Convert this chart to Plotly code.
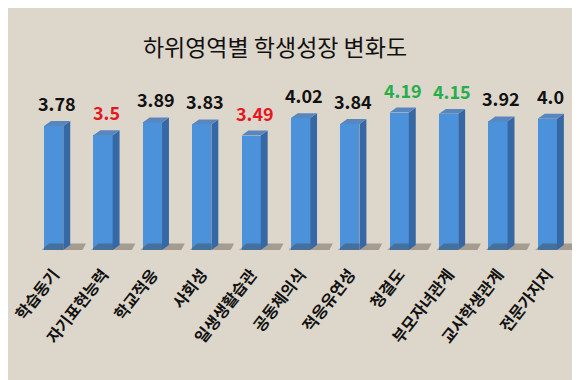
import plotly.graph_objects as go

categories = ["학습동기", "자기표현능력", "학교적응", "사회성", "일생생활습관", "공동체의식",
              "적응유연성", "청결도", "부모자녀관계", "교사학생관계", "전문가지지"]
values = [3.78, 3.5, 3.89, 3.83, 3.49, 4.02, 3.84, 4.19, 4.15, 3.92, 4.0]
value_labels = ["3.78", "3.5", "3.89", "3.83", "3.49", "4.02", "3.84", "4.19", "4.15", "3.92", "4.0"]
label_colors = ["#111111", "#E5171F", "#111111", "#111111", "#E5171F", "#111111",
                "#111111", "#27AE4A", "#27AE4A", "#111111", "#111111"]

FONT = "Noto Sans CJK KR"
W = 0.39      # front face width (x units)
DX = 0.14     # depth offset in x
DY = 0.15     # depth offset in y
xs = list(range(len(categories)))

fig = go.Figure()

# floor shadows
for i, v in zip(xs, values):
    x0 = i - W / 2
    x1 = i + W / 2 + DX
    fig.add_trace(go.Scatter(
        x=[x0 - 0.05, x1 + 0.25, x1 + 0.32, x0 + 0.1, x0 - 0.05],
        y=[0, 0, DY * 1.3, DY * 1.3, 0],
        fill="toself", mode="lines", line=dict(width=0),
        fillcolor="rgba(60,50,40,0.35)", hoverinfo="skip", showlegend=False))

# front faces
fig.add_trace(go.Bar(x=xs, y=values, width=W,
                     marker=dict(color="#4C92DA", line=dict(width=0)),
                     hoverinfo="skip", showlegend=False))

# side and top faces
for i, v in zip(xs, values):
    xl = i - W / 2
    xr = i + W / 2
    fig.add_trace(go.Scatter(
        x=[xr, xr + DX, xr + DX, xr, xr],
        y=[0, DY, v + DY, v, 0],
        fill="toself", mode="lines", line=dict(width=0),
        fillcolor="#3668A6", hoverinfo="skip", showlegend=False))
    fig.add_trace(go.Scatter(
        x=[xl, xr, xr + DX, xl + DX, xl],
        y=[v, v, v + DY, v + DY, v],
        fill="toself", mode="lines", line=dict(width=0),
        fillcolor="#5A86BE", hoverinfo="skip", showlegend=False))

# value labels
for i, v, t, c in zip(xs, values, value_labels, label_colors):
    fig.add_annotation(x=i + DX / 2, y=v + DY, text=t, showarrow=False,
                       yanchor="bottom", yshift=3,
                       font=dict(family=FONT, size=18, color=c, weight="bold"))

fig.update_layout(
    width=580, height=380,
    margin=dict(l=21, r=16, t=55, b=138),
    paper_bgcolor="#DDD6CA", plot_bgcolor="rgba(0,0,0,0)",
    title=dict(text="하위영역별 학생성장 변화도", x=267 / 580, xanchor="center",
               y=1 - 40 / 380, yanchor="middle",
               font=dict(family=FONT, size=23, color="#111111")),
    xaxis=dict(tickmode="array", tickvals=xs, ticktext=categories,
               range=[-0.5, 10.5], tickangle=-52, showgrid=False, zeroline=False,
               showline=False, ticks="", ticklabelstandoff=11, automargin=False,
               ticklabeloverflow="allow",
               tickfont=dict(family=FONT, size=16, color="#111111", weight="bold")),
    yaxis=dict(range=[0, 5.7], visible=False, showgrid=False, zeroline=False,
               automargin=False),
    bargap=0,
)

fig.write_html("out.html")
